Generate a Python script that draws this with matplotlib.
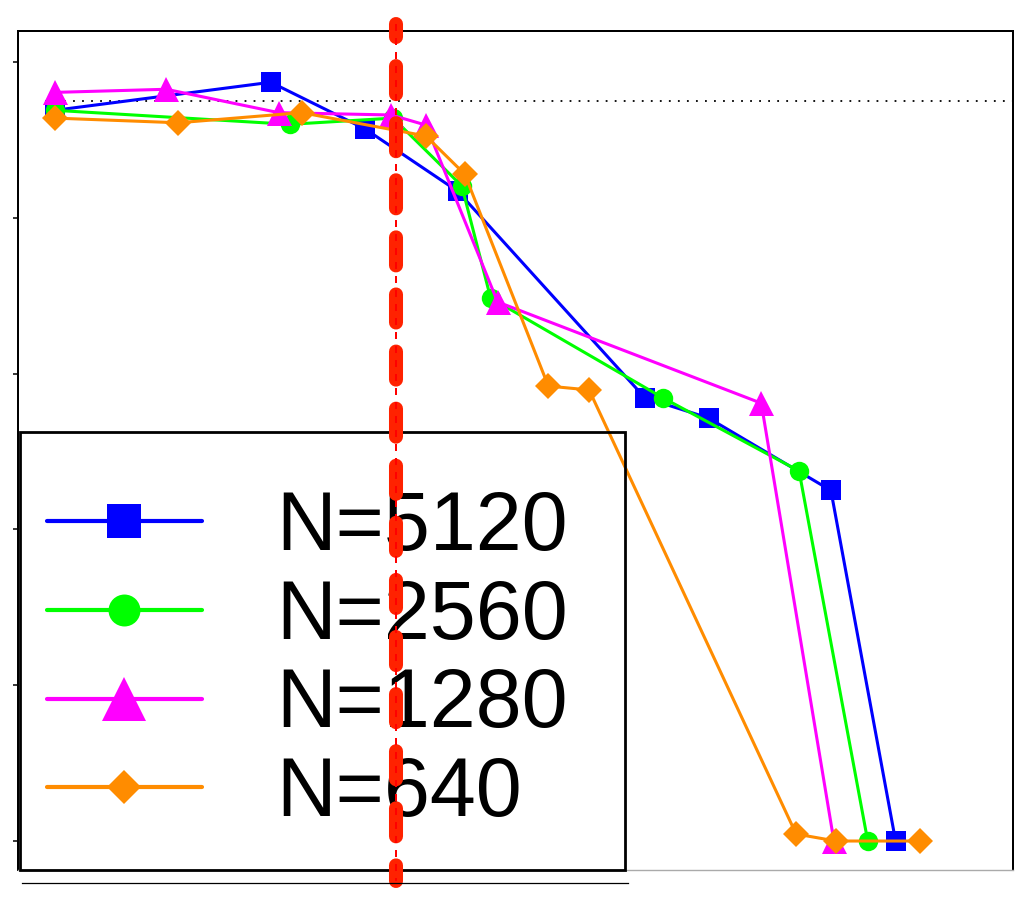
import matplotlib
matplotlib.use("Agg")
import matplotlib.pyplot as plt
from matplotlib.lines import Line2D
from matplotlib.patches import Rectangle

plt.rcParams['font.family'] = ['Liberation Sans', 'DejaVu Sans']

# series values (x in arbitrary units 0..100)
x_5120 = [3.7, 25.4, 34.9, 44.2, 63.0, 69.4, 81.7, 88.2]
y_5120 = [0.938, 0.974, 0.914, 0.834, 0.569, 0.543, 0.450, 0.0]

x_2560 = [3.7, 27.3, 37.7, 44.6, 47.5, 64.8, 78.5, 85.4]
y_2560 = [0.938, 0.920, 0.928, 0.841, 0.697, 0.569, 0.475, 0.0]

x_1280 = [3.7, 14.9, 26.2, 37.5, 41.0, 48.2, 74.7, 82.0]
y_1280 = [0.961, 0.965, 0.935, 0.932, 0.919, 0.692, 0.562, 0.0]

x_640 = [3.7, 16.1, 28.5, 41.0, 44.9, 53.3, 57.4, 78.2, 82.2, 90.7]
y_640 = [0.928, 0.922, 0.935, 0.905, 0.856, 0.584, 0.579, 0.009, 0.0, 0.0]

labels = ['N=5120', 'N=2560', 'N=1280', 'N=640']
colors = ['#0000ff', '#00ff00', '#ff00ff', '#ff8c00']
markers = ['s', 'o', '^', 'D']
plot_ms = [14.5, 14, 18, 13.2]
legend_ms = [24.5, 23, 32, 17]

ref_level = 0.95
threshold_x = 38.0
yticks = [0.0, 0.2, 0.4, 0.6, 0.8, 1.0]

W, H = 1026, 906
fig = plt.figure(figsize=(W / 100, H / 100), dpi=100)
ax = fig.add_axes([18 / W, 1 - 870 / H, 995 / W, 839 / H])

series = [(x_5120, y_5120), (x_2560, y_2560), (x_1280, y_1280), (x_640, y_640)]
for (xs, ys), c, m, ms in zip(series, colors, markers, plot_ms):
    ax.plot(xs, ys, color=c, marker=m, markersize=ms, lw=2.2,
            markeredgewidth=0, zorder=3)

# dotted reference level
ax.plot([x_5120[0], 100], [ref_level, ref_level], color='black', lw=1.3,
        linestyle=(0, (1, 4)), zorder=2)

# thick red dashed threshold with a thin dashed line inside
ax.plot([threshold_x, threshold_x], [1.0488, -0.0513], color='#ff2200',
        lw=10.1, linestyle=(1.07, (2.0, 2.07)), dash_capstyle='round',
        clip_on=False, zorder=10)
ax.plot([threshold_x, threshold_x], [1.0488, -0.0513], color='#ff0000',
        lw=1.44, linestyle=(0, (3.5, 3.5)), clip_on=False, zorder=11)

ax.set_xlim(0, 100)
ax.set_ylim(-0.0372, 1.0398)
ax.set_yticks(yticks)
ax.set_yticklabels([])
ax.set_xticks([])
ax.tick_params(axis='y', direction='out', length=3.6, width=1.1)
for side in ['left', 'top', 'right']:
    ax.spines[side].set_linewidth(1.44)
    ax.spines[side].set_color('black')
ax.spines['bottom'].set_color('#aaaaaa')
ax.spines['bottom'].set_linewidth(1.0)

handles = [Line2D([], [], color=c, marker=m, markersize=ms, lw=3,
                  markeredgewidth=0, solid_capstyle='round')
           for c, m, ms in zip(colors, markers, legend_ms)]
leg = ax.legend(handles, labels, loc='upper left',
                bbox_to_anchor=(47 / W, 1 - 489 / H),
                bbox_transform=fig.transFigure, frameon=False,
                fontsize=59.5, borderpad=0, borderaxespad=0,
                handlelength=1.87, handletextpad=0.91, labelspacing=0.13,
                numpoints=1)
leg.set_zorder(5)

ax.add_patch(Rectangle((20 / W, 1 - 870 / H), 605 / W, 438 / H,
                       transform=fig.transFigure, fill=False,
                       edgecolor='black', lw=2.0, clip_on=False, zorder=5))
fig.add_artist(Line2D([22 / W, 628 / W], [1 - 883 / H, 1 - 883 / H],
                      color='black', lw=0.9))

fig.savefig('out.png', dpi=100)
